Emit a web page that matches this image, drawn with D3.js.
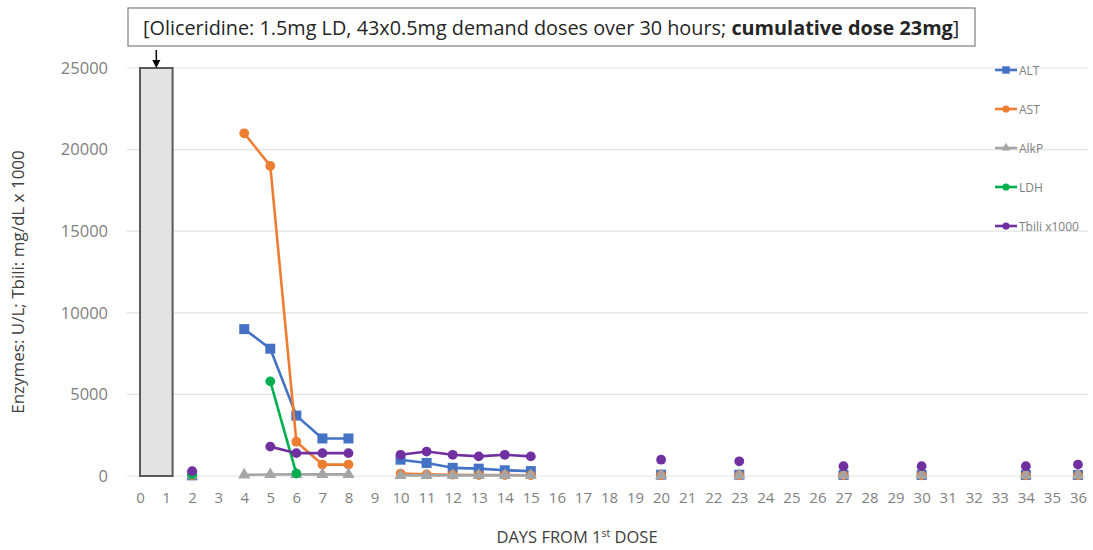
<!DOCTYPE html>
<html>
<head>
<meta charset="utf-8">
<script src="https://cdn.jsdelivr.net/npm/d3@7"></script>
<style>
  html, body { margin: 0; padding: 0; background: #fff; }
  svg { display: block; font-family: "Open Sans", "Noto Sans", sans-serif; }
</style>
</head>
<body>
<svg id="chart" width="1093" height="550"></svg>
<script>
// ---- data ----
const days = [2, 4, 5, 6, 7, 8, 10, 11, 12, 13, 14, 15, 20, 23, 27, 30, 34, 36];
const ALT   = [40, 9000, 7800, 3700, 2300, 2300, 1000, 800, 500, 450, 350, 300, 80, 80, 60, 60, 60, 60];
const AST   = [40, 21000, 19000, 2100, 700, 700, 150, 100, 80, 60, 60, 50, 40, 40, 40, 40, 40, 40];
const AlkP  = [30, 70, 90, 100, 100, 100, 40, 40, 40, 40, 40, 40, 40, 40, 40, 40, 40, 40];
const LDH   = [100, null, 5800, 150, null, null, null, null, null, null, null, null, null, null, null, null, null, null];
const Tbili = [300, null, 1800, 1400, 1400, 1400, 1300, 1500, 1300, 1200, 1300, 1200, 1000, 900, 600, 600, 600, 700];
const seriesNames = ["ALT", "AST", "AlkP", "LDH", "Tbili x1000"];
const seriesColors = ["#4472C4", "#ED7D31", "#A5A5A5", "#00B050", "#7030A0"];
const seriesMarkers = ["square", "circle", "triangle", "circle", "circle"];
const dosingPeriod = { start: 0, end: 1.25, value: 25000 };   // 30 hours = 1.25 days
const xTicks = d3.range(0, 37);
const yTicks = [0, 5000, 10000, 15000, 20000, 25000];
const titleParts = ["[Oliceridine: 1.5mg LD, 43x0.5mg demand doses over 30 hours; ", "cumulative dose 23mg", "]"];

// ---- layout ----
const svg = d3.select("#chart");
const x = d3.scaleLinear().domain([-0.5, 36.5]).range([127, 1091]);
const y = d3.scaleLinear().domain([0, 25000]).range([476, 68]);
const gridRight = 1088;

// gridlines
svg.append("g").selectAll("line").data(yTicks).join("line")
  .attr("x1", x(-0.5)).attr("x2", gridRight)
  .attr("y1", d => y(d)).attr("y2", d => y(d))
  .attr("stroke", "#e3e3e3").attr("stroke-width", 1.2);

// y axis labels
const yAxis = d3.axisLeft(y).tickValues(yTicks).tickSize(0).tickPadding(0).tickFormat(d3.format("d"));
const yg = svg.append("g").attr("transform", "translate(108,0)").call(yAxis);
yg.select(".domain").remove();
yg.selectAll("text").attr("fill", "#7f7f7f").style("font-size", "16.5px").style("font-family", "'Open Sans', sans-serif");

// x axis labels
const xAxis = d3.axisBottom(x).tickValues(xTicks).tickSize(0).tickPadding(0).tickFormat(d3.format("d"));
const xg = svg.append("g").attr("transform", "translate(0,492)").call(xAxis);
xg.select(".domain").remove();
xg.selectAll("text").attr("fill", "#7f7f7f").style("font-size", "15px").style("font-family", "'Open Sans', sans-serif");

// axis titles
svg.append("text")
  .attr("transform", `translate(24,${y(12500) + 10}) rotate(-90)`)
  .attr("text-anchor", "middle")
  .attr("fill", "#404040")
  .style("font-size", "17px")
  .text("Enzymes: U/L; Tbili: mg/dL x 1000");

const xt = svg.append("text")
  .attr("x", 577).attr("y", 543)
  .attr("text-anchor", "middle")
  .attr("fill", "#404040")
  .style("font-size", "16.5px");
xt.append("tspan").text("DAYS FROM 1");
xt.append("tspan").text("st").attr("dy", -6).style("font-size", "10.5px");
xt.append("tspan").text(" DOSE").attr("dy", 6);

// dosing bar
svg.append("rect")
  .attr("x", x(dosingPeriod.start)).attr("y", y(dosingPeriod.value))
  .attr("width", x(dosingPeriod.end) - x(dosingPeriod.start))
  .attr("height", y(0) - y(dosingPeriod.value))
  .attr("fill", "#e4e4e4").attr("stroke", "#595959").attr("stroke-width", 2);

// title box
const tb = svg.append("g");
tb.append("rect").attr("x", 128).attr("y", 8).attr("width", 847).attr("height", 38)
  .attr("fill", "#fff").attr("stroke", "#7f7f7f").attr("stroke-width", 1.2);
const tt = tb.append("text").attr("x", 143).attr("y", 35).attr("fill", "#262626").style("font-size", "17.5px");
tt.append("tspan").text(titleParts[0]);
tt.append("tspan").text(titleParts[1]).style("font-weight", "bold");
tt.append("tspan").text(titleParts[2]);
// fit title width
const targetW = 817;
const w = tt.node().getComputedTextLength();
if (w > 0) tt.style("font-size", (17.5 * targetW / w).toFixed(2) + "px");

// arrow
const ax = (x(dosingPeriod.start) + x(dosingPeriod.end)) / 2;
svg.append("line").attr("x1", ax).attr("x2", ax).attr("y1", 50).attr("y2", 62)
  .attr("stroke", "#000").attr("stroke-width", 1.5);
svg.append("path").attr("d", `M${ax - 4},60 L${ax + 4},60 L${ax},68 Z`).attr("fill", "#000");

// series
const seriesData = [ALT, AST, AlkP, LDH, Tbili];
const symbolFor = m => m === "square" ? d3.symbolSquare : m === "triangle" ? d3.symbolTriangle : d3.symbolCircle;
const sizeFor = m => m === "square" ? 100 : m === "triangle" ? 65 : 75;

seriesData.forEach((vals, si) => {
  const pts = days.map((d, i) => ({ d, v: vals[i] })).filter(p => p.v != null);
  // split into consecutive-day segments
  const segs = [];
  let cur = [];
  pts.forEach((p, i) => {
    if (i > 0 && p.d - pts[i - 1].d > 1) { segs.push(cur); cur = []; }
    cur.push(p);
  });
  if (cur.length) segs.push(cur);
  const line = d3.line().x(p => x(p.d)).y(p => y(p.v));
  const g = svg.append("g");
  segs.filter(s => s.length > 1).forEach(s => {
    g.append("path").attr("d", line(s)).attr("fill", "none")
      .attr("stroke", seriesColors[si]).attr("stroke-width", 2.6).attr("stroke-linejoin", "round");
  });
  g.selectAll("path.m").data(pts).join("path").attr("class", "m")
    .attr("transform", p => `translate(${x(p.d)},${y(p.v)})`)
    .attr("d", d3.symbol().type(symbolFor(seriesMarkers[si])).size(sizeFor(seriesMarkers[si])))
    .attr("fill", seriesColors[si]);
});

// legend
const lg = svg.append("g");
seriesNames.forEach((name, i) => {
  const ly = 70 + i * 39;
  const it = lg.append("g").attr("transform", `translate(995,${ly})`);
  it.append("line").attr("x1", 0).attr("x2", 22).attr("y1", 0).attr("y2", 0)
    .attr("stroke", seriesColors[i]).attr("stroke-width", 2.6);
  it.append("path").attr("transform", "translate(11,0)")
    .attr("d", d3.symbol().type(symbolFor(seriesMarkers[i])).size(sizeFor(seriesMarkers[i]) * 0.55))
    .attr("fill", seriesColors[i]);
  it.append("text").attr("x", 24).attr("y", 4.5).attr("fill", "#7f7f7f")
    .style("font-size", "12px").text(name);
});
</script>
</body>
</html>
